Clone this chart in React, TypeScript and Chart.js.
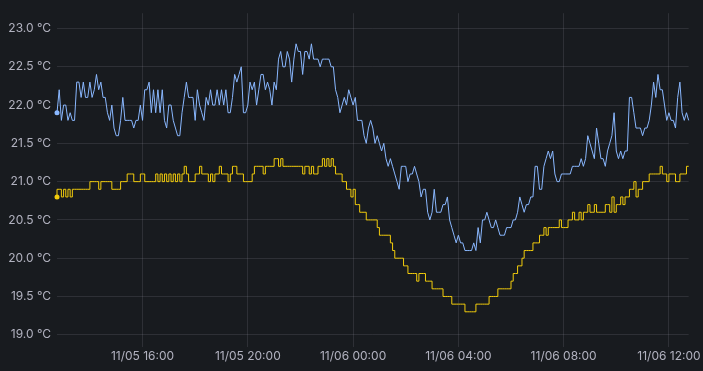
import React, { useEffect, useRef } from "react";
import { Chart, registerables } from "chart.js";

Chart.register(...registerables);

// Samples every 5 minutes from 11/05 12:45 to 11/06 12:45
const sampleMinutes = 5;

const blueTemps: number[] = [
  21.9, 22.2, 21.8, 22.0, 22.0, 21.8, 21.9, 21.8, 21.8, 22.3,
  22.3, 22.1, 22.3, 22.1, 22.1, 22.3, 22.1, 22.2, 22.4, 22.2,
  22.3, 22.1, 22.1, 21.9, 21.8, 22.0, 21.7, 21.6, 21.6, 21.8,
  22.1, 21.8, 21.8, 21.8, 21.8, 21.7, 21.8, 21.8, 22.0, 21.8,
  22.2, 22.2, 22.3, 21.9, 22.2, 21.9, 22.2, 21.9, 22.2, 21.8,
  21.7, 22.0, 22.0, 21.8, 21.7, 21.6, 21.6, 21.9, 22.1, 22.3,
  22.1, 22.1, 22.1, 21.8, 22.2, 22.0, 21.9, 21.8, 22.1, 22.0,
  22.2, 22.0, 22.0, 22.2, 22.0, 22.2, 22.0, 22.2, 21.9, 21.9,
  22.1, 22.4, 22.3, 22.4, 22.5, 21.9, 21.9, 22.0, 22.3, 22.2,
  22.3, 22.0, 22.2, 22.4, 22.4, 22.2, 22.3, 22.2, 22.0, 22.3,
  22.2, 22.6, 22.7, 22.5, 22.5, 22.7, 22.6, 22.3, 22.6, 22.8,
  22.7, 22.7, 22.4, 22.7, 22.7, 22.6, 22.8, 22.6, 22.6, 22.6,
  22.5, 22.6, 22.6, 22.6, 22.6, 22.5, 22.5, 22.2, 22.1, 21.9,
  22.0, 22.1, 22.0, 22.2, 22.1, 22.0, 22.1, 21.8, 21.8, 21.8,
  21.6, 21.5, 21.7, 21.8, 21.7, 21.5, 21.6, 21.5, 21.4, 21.5,
  21.3, 21.2, 21.3, 21.2, 21.1, 21.0, 20.9, 21.2, 21.2, 21.2,
  21.0, 21.1, 21.1, 21.2, 21.1, 21.0, 20.8, 20.9, 20.9, 20.6,
  20.5, 20.6, 20.9, 20.6, 20.6, 20.6, 20.7, 20.7, 20.8, 20.5,
  20.4, 20.3, 20.2, 20.3, 20.2, 20.2, 20.1, 20.1, 20.1, 20.1,
  20.2, 20.1, 20.4, 20.2, 20.5, 20.5, 20.6, 20.5, 20.4, 20.4,
  20.5, 20.4, 20.3, 20.3, 20.3, 20.4, 20.4, 20.4, 20.5, 20.5,
  20.6, 20.8, 20.7, 20.6, 20.7, 20.7, 20.8, 20.8, 21.2, 21.2,
  20.9, 20.9, 21.2, 21.3, 21.4, 21.3, 21.4, 21.1, 21.0, 21.0,
  21.1, 21.1, 21.1, 21.1, 21.1, 21.2, 21.2, 21.2, 21.2, 21.3,
  21.2, 21.3, 21.6, 21.5, 21.4, 21.3, 21.7, 21.5, 21.3, 21.3,
  21.2, 21.4, 21.5, 21.6, 21.9, 21.4, 21.3, 21.4, 21.3, 21.4,
  21.4, 22.1, 22.1, 21.9, 21.7, 21.7, 21.7, 21.6, 21.7, 21.7,
  21.8, 22.0, 22.3, 22.1, 22.4, 22.2, 22.2, 22.0, 21.8, 21.9,
  21.8, 21.8, 21.7, 22.1, 22.3, 21.9, 21.8, 21.9, 21.8,
];

const yellowTemps: number[] = [
  20.8, 20.9, 20.9, 20.8, 20.9, 20.8, 20.9, 20.8, 20.9, 20.9,
  20.9, 20.9, 20.9, 20.9, 20.9, 20.9, 21.0, 21.0, 21.0, 21.0,
  20.9, 21.0, 21.0, 21.0, 21.0, 21.0, 20.9, 20.9, 20.9, 20.9,
  21.0, 21.0, 21.0, 21.1, 21.1, 21.1, 21.0, 21.0, 21.0, 21.1,
  21.1, 21.0, 21.0, 21.0, 21.0, 21.0, 21.1, 21.0, 21.1, 21.0,
  21.1, 21.0, 21.1, 21.0, 21.1, 21.0, 21.1, 21.0, 21.1, 21.2,
  21.1, 21.0, 21.0, 21.0, 21.1, 21.1, 21.2, 21.1, 21.1, 21.1,
  21.0, 21.1, 21.0, 21.1, 21.1, 21.2, 21.1, 21.1, 21.1, 21.0,
  21.1, 21.2, 21.2, 21.1, 21.1, 21.1, 21.0, 21.0, 21.0, 21.0,
  21.1, 21.2, 21.2, 21.2, 21.2, 21.1, 21.2, 21.2, 21.2, 21.2,
  21.3, 21.3, 21.2, 21.3, 21.2, 21.2, 21.2, 21.2, 21.2, 21.2,
  21.2, 21.2, 21.2, 21.1, 21.2, 21.2, 21.1, 21.2, 21.1, 21.1,
  21.2, 21.2, 21.3, 21.2, 21.3, 21.2, 21.3, 21.2, 21.1, 21.1,
  21.1, 21.0, 21.0, 20.9, 20.9, 20.8, 20.9, 20.7, 20.7, 20.6,
  20.6, 20.6, 20.5, 20.5, 20.5, 20.5, 20.5, 20.4, 20.3, 20.3,
  20.3, 20.3, 20.3, 20.2, 20.1, 20.0, 20.0, 20.0, 20.0, 19.9,
  19.9, 19.8, 19.8, 19.8, 19.8, 19.7, 19.8, 19.8, 19.8, 19.7,
  19.7, 19.7, 19.6, 19.6, 19.6, 19.6, 19.6, 19.5, 19.5, 19.5,
  19.5, 19.4, 19.4, 19.4, 19.4, 19.4, 19.4, 19.3, 19.3, 19.3,
  19.3, 19.3, 19.4, 19.4, 19.4, 19.4, 19.4, 19.4, 19.5, 19.5,
  19.5, 19.5, 19.6, 19.6, 19.6, 19.6, 19.6, 19.6, 19.7, 19.8,
  19.8, 19.9, 19.9, 20.0, 20.1, 20.1, 20.1, 20.1, 20.2, 20.2,
  20.2, 20.3, 20.3, 20.4, 20.3, 20.4, 20.4, 20.4, 20.4, 20.4,
  20.5, 20.4, 20.4, 20.4, 20.5, 20.5, 20.6, 20.5, 20.5, 20.6,
  20.5, 20.6, 20.6, 20.7, 20.6, 20.6, 20.7, 20.6, 20.6, 20.6,
  20.6, 20.7, 20.7, 20.6, 20.8, 20.6, 20.7, 20.7, 20.8, 20.7,
  20.8, 20.8, 20.9, 20.9, 21.0, 20.8, 20.9, 20.9, 21.0, 21.0,
  21.0, 21.1, 21.1, 21.1, 21.1, 21.1, 21.2, 21.1, 21.1, 21.0,
  21.1, 21.1, 21.1, 21.0, 21.0, 21.1, 21.1, 21.1, 21.2,
];

// x ticks in minutes after 11/05 12:45
const xTickMinutes: number[] = [195, 435, 675, 915, 1155, 1395];
const xTickLabels: string[] = [
  "11/05 16:00",
  "11/05 20:00",
  "11/06 00:00",
  "11/06 04:00",
  "11/06 08:00",
  "11/06 12:00",
];
const yTickValues: number[] = [19.0, 19.5, 20.0, 20.5, 21.0, 21.5, 22.0, 22.5, 23.0];

const BG = "#181b1f";
const GRID = "rgba(204,204,220,0.12)";
const TEXT = "rgba(204,204,220,0.85)";
const BLUE = "#8ab8ff";
const YELLOW = "#f2cc0c";

export default function App() {
  const ref = useRef<HTMLCanvasElement>(null);

  useEffect(() => {
    document.body.style.margin = "0";
    document.body.style.background = BG;
    const canvas = ref.current!;
    const toPoints = (arr: number[]) => arr.map((v, i) => ({ x: i * sampleMinutes, y: v }));
    const chart = new Chart(canvas, {
      type: "line",
      data: {
        datasets: [
          {
            label: "Blue",
            data: toPoints(blueTemps),
            borderColor: BLUE,
            backgroundColor: BLUE,
            borderWidth: 1,
            pointRadius: (ctx: any) => (ctx.dataIndex === 0 ? 2.5 : 0),
            pointBorderWidth: 0,
            pointBackgroundColor: BLUE,
            tension: 0,
            clip: 5,
          } as any,
          {
            label: "Yellow",
            data: toPoints(yellowTemps),
            borderColor: YELLOW,
            backgroundColor: YELLOW,
            borderWidth: 1,
            stepped: "after",
            pointRadius: (ctx: any) => (ctx.dataIndex === 0 ? 2.5 : 0),
            pointBorderWidth: 0,
            pointBackgroundColor: YELLOW,
            clip: 5,
          } as any,
        ],
      },
      options: {
        animation: false,
        responsive: false,
        maintainAspectRatio: false,
        layout: { padding: { top: 13, right: 14, left: 0, bottom: 0 } },
        plugins: { legend: { display: false }, tooltip: { enabled: false } },
        scales: {
          x: {
            type: "linear",
            min: 0,
            max: 1440,
            afterBuildTicks: (s: any) => {
              s.ticks = xTickMinutes.map((v) => ({ value: v }));
            },
            afterFit: (s: any) => {
              s.height = 24;
            },
            ticks: {
              autoSkip: false,
              maxRotation: 0,
              padding: 2,
              color: TEXT,
              font: { family: "Inter", size: 12 },
              callback: (v: any) => {
                const i = xTickMinutes.indexOf(Number(v));
                return i >= 0 ? xTickLabels[i] : "";
              },
            },
            grid: { color: GRID, drawTicks: false, lineWidth: 1 },
            border: { display: false },
          },
          y: {
            type: "linear",
            min: 18.84,
            max: 23.2,
            afterBuildTicks: (s: any) => {
              s.ticks = yTickValues.map((v) => ({ value: v }));
            },
            afterFit: (s: any) => {
              s.width = 57;
            },
            ticks: {
              padding: 6,
              color: TEXT,
              font: { family: "Inter", size: 12 },
              callback: (v: any) => Number(v).toFixed(1) + " °C",
            },
            grid: { color: GRID, drawTicks: false, lineWidth: 1 },
            border: { display: false },
          },
        },
      },
    });
    return () => chart.destroy();
  }, []);

  return (
    <div style={{ width: 703, height: 371, background: BG }}>
      <canvas ref={ref} width={703} height={371} style={{ display: "block" }} />
    </div>
  );
}
